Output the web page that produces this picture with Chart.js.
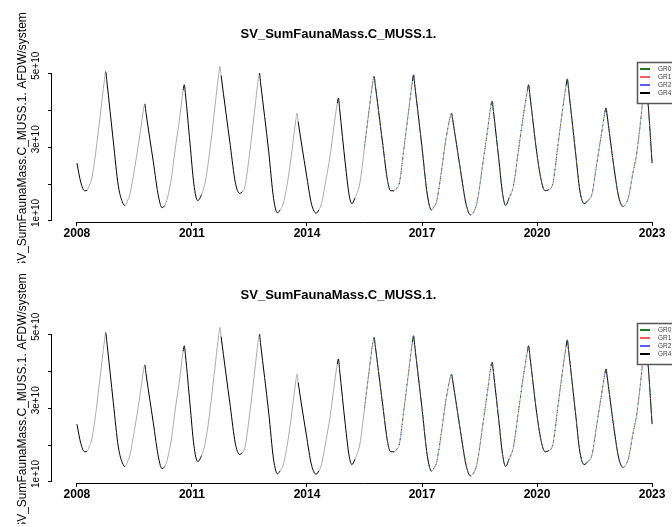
<!DOCTYPE html>
<html>
<head>
<meta charset="utf-8">
<script src="https://cdn.jsdelivr.net/npm/chart.js@4.4.1/dist/chart.umd.min.js"></script>
<style>
  html, body { margin: 0; padding: 0; background: #fff; overflow: hidden; }
  #wrap { position: relative; width: 672px; height: 527px; overflow: hidden; }
  canvas { position: absolute; left: 0; }
  #topChart { top: 0; }
  #bottomChart { top: 261px; }
</style>
</head>
<body>
<div id="wrap">
  <canvas id="topChart" width="732" height="263"></canvas>
  <canvas id="bottomChart" width="732" height="263"></canvas>
</div>
<script>
var titleText = "SV_SumFaunaMass.C_MUSS.1.";
var yTitle = "SV_SumFaunaMass.C_MUSS.1. AFDW/system";
var groups = ["GR0", "GR1", "GR2", "GR4"];
var groupColors = ["#1f7a1f", "#ff5a5a", "#5a5aff", "#000000"];
var xTicks = [2008, 2011, 2014, 2017, 2020, 2023];
var yTicks = [1e10, 2e10, 3e10, 4e10, 5e10];
var yTickLabels = ["1e+10", "", "3e+10", "", "5e+10"];
// the coloured groups only show up from mid 2015
var groupStart = 2015.4;

var years = [
  2008.00, 2008.10, 2008.20, 2008.27, 2008.33, 2008.37, 2008.45, 2008.60, 2008.72, 2008.75, 2008.78, 2008.95, 2009.08, 2009.20,
  2009.26, 2009.33, 2009.37, 2009.50, 2009.65, 2009.74, 2009.77, 2009.80, 2009.99, 2010.13, 2010.22,
  2010.29, 2010.36, 2010.47, 2010.56, 2010.68, 2010.77, 2010.80, 2010.83, 2010.95, 2011.05, 2011.15,
  2011.25, 2011.36, 2011.50, 2011.62, 2011.70, 2011.73, 2011.76, 2012.00, 2012.13, 2012.24,
  2012.32, 2012.38, 2012.50, 2012.63, 2012.73, 2012.76, 2012.79, 2013.00, 2013.13, 2013.23,
  2013.30, 2013.38, 2013.50, 2013.62, 2013.71, 2013.74, 2013.77, 2013.98, 2014.12, 2014.24,
  2014.31, 2014.38, 2014.50, 2014.60, 2014.72, 2014.79, 2014.82, 2014.85, 2015.00, 2015.10, 2015.17,
  2015.25, 2015.38, 2015.50, 2015.63, 2015.72, 2015.75, 2015.78, 2015.98, 2016.10, 2016.18,
  2016.28, 2016.34, 2016.41, 2016.52, 2016.64, 2016.75, 2016.78, 2016.81, 2017.00, 2017.14, 2017.25,
  2017.31, 2017.38, 2017.50, 2017.62, 2017.74, 2017.77, 2017.80, 2018.00, 2018.15, 2018.27,
  2018.35, 2018.43, 2018.60, 2018.72, 2018.80, 2018.83, 2018.86, 2019.00, 2019.10, 2019.18,
  2019.27, 2019.38, 2019.50, 2019.62, 2019.75, 2019.78, 2019.81, 2020.00, 2020.12, 2020.21,
  2020.31, 2020.38, 2020.42, 2020.55, 2020.67, 2020.76, 2020.79, 2020.82, 2021.00, 2021.12, 2021.23,
  2021.32, 2021.43, 2021.55, 2021.67, 2021.77, 2021.80, 2021.83, 2022.00, 2022.13, 2022.25,
  2022.32, 2022.38, 2022.50, 2022.60, 2022.72, 2022.80, 2022.83, 2022.88, 2022.93, 2023.00
];
var mass = [
  2.57e10, 2.05e10, 1.82e10, 1.84e10, 1.98e10, 2.08e10, 2.55e10, 3.80e10, 4.85e10, 5.06e10, 4.80e10, 3.15e10, 1.95e10, 1.48e10,
  1.42e10, 1.58e10, 1.68e10, 2.40e10, 3.40e10, 4.05e10, 4.18e10, 3.95e10, 2.62e10, 1.65e10, 1.36e10,
  1.42e10, 1.62e10, 2.20e10, 2.93e10, 3.80e10, 4.55e10, 4.70e10, 4.45e10, 3.10e10, 2.00e10, 1.55e10,
  1.72e10, 2.13e10, 3.20e10, 4.30e10, 5.00e10, 5.20e10, 4.95e10, 3.05e10, 2.05e10, 1.75e10,
  1.80e10, 1.93e10, 2.80e10, 3.95e10, 4.85e10, 5.02e10, 4.75e10, 2.90e10, 1.60e10, 1.22e10,
  1.30e10, 1.46e10, 2.10e10, 3.00e10, 3.75e10, 3.93e10, 3.70e10, 2.30e10, 1.45e10, 1.21e10,
  1.30e10, 1.48e10, 2.15e10, 2.75e10, 3.70e10, 4.20e10, 4.34e10, 4.05e10, 2.55e10, 1.70e10, 1.47e10,
  1.62e10, 2.03e10, 3.00e10, 4.10e10, 4.80e10, 4.93e10, 4.70e10, 3.05e10, 2.10e10, 1.82e10,
  1.82e10, 1.89e10, 2.03e10, 2.90e10, 3.90e10, 4.80e10, 4.97e10, 4.70e10, 3.00e10, 1.70e10, 1.29e10,
  1.38e10, 1.53e10, 2.30e10, 3.20e10, 3.85e10, 3.93e10, 3.75e10, 2.40e10, 1.45e10, 1.16e10,
  1.25e10, 1.48e10, 2.66e10, 3.55e10, 4.15e10, 4.25e10, 4.00e10, 2.70e10, 1.75e10, 1.42e10,
  1.62e10, 1.93e10, 2.80e10, 3.70e10, 4.55e10, 4.70e10, 4.45e10, 2.80e10, 2.05e10, 1.82e10,
  1.85e10, 1.92e10, 2.05e10, 3.10e10, 4.05e10, 4.70e10, 4.86e10, 4.60e10, 2.90e10, 1.80e10, 1.47e10,
  1.55e10, 1.72e10, 2.50e10, 3.30e10, 3.95e10, 4.07e10, 3.85e10, 2.50e10, 1.65e10, 1.39e10,
  1.48e10, 1.62e10, 2.30e10, 2.84e10, 3.90e10, 4.75e10, 4.85e10, 4.40e10, 3.70e10, 2.57e10
];

Chart.defaults.font.family = "'Liberation Sans', Arial, sans-serif";
Chart.defaults.color = "#000";

// R draws the axis lines only between first and last tick, plus the legend box
var rAxes = {
  id: "rAxes",
  afterDraw: function(chart) {
    var xs = chart.scales.x, ys = chart.scales.y, c = chart.ctx, area = chart.chartArea;
    c.save();
    c.setLineDash([]);
    c.strokeStyle = "#000";
    c.lineWidth = 1;
    c.beginPath();
    var yb = Math.round(area.bottom) + 0.5;
    c.moveTo(xs.getPixelForValue(xTicks[0]), yb);
    c.lineTo(xs.getPixelForValue(xTicks[xTicks.length - 1]), yb);
    var xl = Math.round(area.left) - 0.5;
    c.moveTo(xl, ys.getPixelForValue(yTicks[0]));
    c.lineTo(xl, ys.getPixelForValue(yTicks[yTicks.length - 1]));
    c.stroke();

    // legend
    var lx = Math.round(area.right) - 40, ly = Math.round(area.top) + 3;
    c.fillStyle = "#fff";
    c.fillRect(lx, ly, 70, 41);
    c.strokeStyle = "#555";
    c.lineWidth = 1.5;
    c.strokeRect(lx + 0.5, ly + 0.5, 70, 41);
    c.font = "6.5px 'Liberation Sans', Arial";
    c.textBaseline = "middle";
    chart.data.datasets.forEach(function(ds, i) {
      var ry = ly + 7 + i * 8;
      c.setLineDash([]);
      c.strokeStyle = ds.borderColor;
      c.lineWidth = 2;
      c.beginPath();
      c.moveTo(lx + 3, ry);
      c.lineTo(lx + 13, ry);
      c.stroke();
      c.fillStyle = "#444";
      c.fillText(ds.label, lx + 21, ry);
    });
    c.restore();
  }
};

function makeChart(id) {
  var pts = years.map(function(y, i) { return {x: y, y: mass[i]}; });
  var late = pts.filter(function(p) { return p.x >= groupStart; });
  var dashes = [[1, 4], [1, 11], [1, 5]];
  var datasets = [];
  for (var g = 0; g < 3; g++) {
    datasets.push({
      label: groups[g],
      data: late,
      borderColor: groupColors[g],
      borderWidth: 1,
      borderDash: dashes[g],
      borderDashOffset: g * 2,
      pointRadius: 0,
      cubicInterpolationMode: "monotone"
    });
  }
  datasets.push({
    label: groups[3],
    data: pts,
    borderColor: groupColors[3],
    borderWidth: 1,
    pointRadius: 0,
    cubicInterpolationMode: "monotone",
    segment: {
      borderColor: function(ctx) {
        var k = Math.floor((ctx.p0.parsed.x - 2008.25) * 2);
        return (((k % 2) + 2) % 2 === 0) ? "#ababab" : "#000";
      }
    }
  });

  return new Chart(document.getElementById(id), {
    type: "line",
    data: { datasets: datasets },
    options: {
      responsive: false,
      animation: false,
      devicePixelRatio: 1,
      layout: { padding: { top: 0, right: 55, bottom: 0, left: 0 } },
      plugins: {
        legend: { display: false },
        tooltip: { enabled: false },
        title: {
          display: true,
          text: titleText,
          color: "#000",
          font: { size: 13, weight: "bold" },
          padding: { top: 27, bottom: 16.4 }
        }
      },
      scales: {
        x: {
          type: "linear",
          min: 2007.35,
          max: 2023.65,
          afterBuildTicks: function(s) { s.ticks = xTicks.map(function(v) { return {value: v}; }); },
          afterFit: function(s) { s.height = 41; },
          border: { display: false },
          grid: { drawOnChartArea: false, tickLength: 4, color: "#000" },
          ticks: {
            autoSkip: false,
            maxRotation: 0,
            padding: 0,
            color: "#000",
            font: { size: 12, weight: "bold" },
            callback: function(v) { return String(v); }
          }
        },
        y: {
          min: 0.97e10,
          max: 5.4e10,
          afterBuildTicks: function(s) { s.ticks = yTicks.map(function(v) { return {value: v}; }); },
          afterFit: function(s) { s.width = 52; },
          border: { display: false },
          grid: { drawOnChartArea: false, tickLength: 4, color: "#000" },
          ticks: {
            minRotation: 90,
            maxRotation: 90,
            crossAlign: "center",
            padding: -2,
            labelOffset: -8,
            color: "#000",
            font: { family: "'Liberation Sans Narrow', 'Liberation Sans', Arial", size: 10 },
            callback: function(v) { return yTickLabels[yTicks.indexOf(v)]; }
          },
          title: {
            display: true,
            text: yTitle,
            color: "#000",
            font: { size: 12 },
            padding: { top: 15, bottom: 0 }
          }
        }
      }
    },
    plugins: [rAxes]
  });
}

makeChart("topChart");
makeChart("bottomChart");
</script>
</body>
</html>
